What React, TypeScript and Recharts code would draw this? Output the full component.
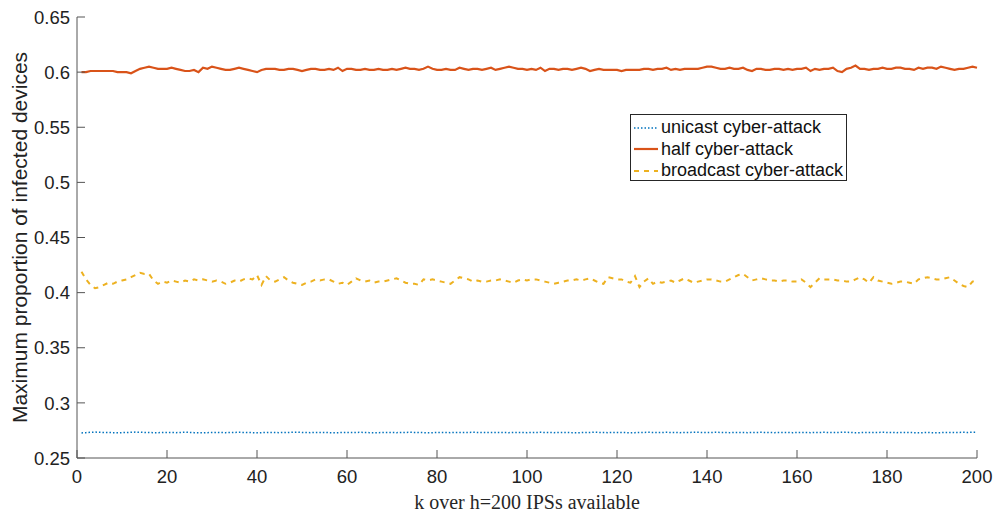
import { LineChart, Line, XAxis, YAxis, Legend } from "recharts";

const xTicks = [0, 20, 40, 60, 80, 100, 120, 140, 160, 180, 200];
const yTicks = [0.25, 0.3, 0.35, 0.4, 0.45, 0.5, 0.55, 0.6, 0.65];

const unicast = [
  0.2727, 0.273, 0.2733, 0.2735, 0.2733, 0.2732, 0.2731, 0.273, 0.2729, 0.273, 0.2731, 0.2733, 0.2735, 0.2733, 0.2732, 0.2731, 0.273, 0.273, 0.2731, 0.2732,
  0.2731, 0.273, 0.2732, 0.2734, 0.2732, 0.273, 0.2729, 0.2728, 0.273, 0.2731, 0.2732, 0.2731, 0.273, 0.2731, 0.2732, 0.2733, 0.2732, 0.2731, 0.273, 0.2728,
  0.273, 0.2731, 0.2732, 0.2731, 0.273, 0.2731, 0.2732, 0.2733, 0.2734, 0.2732, 0.2731, 0.273, 0.2731, 0.2732, 0.2731, 0.273, 0.2729, 0.273, 0.2731, 0.2732,
  0.2731, 0.2732, 0.2733, 0.2731, 0.273, 0.2729, 0.273, 0.2731, 0.2732, 0.2731, 0.273, 0.2731, 0.2732, 0.2733, 0.2732, 0.2731, 0.273, 0.2729, 0.273, 0.2731,
  0.2732, 0.2731, 0.273, 0.2731, 0.2732, 0.2731, 0.2732, 0.2733, 0.2732, 0.2731, 0.273, 0.2731, 0.2732, 0.2732, 0.2731, 0.273, 0.2731, 0.2732, 0.2731, 0.273,
  0.2731, 0.2732, 0.2733, 0.2732, 0.2731, 0.273, 0.2731, 0.2732, 0.2731, 0.273, 0.2729, 0.273, 0.2731, 0.2732, 0.2734, 0.2732, 0.2731, 0.273, 0.2731, 0.2732,
  0.2731, 0.273, 0.2729, 0.273, 0.2731, 0.2732, 0.2733, 0.2732, 0.2731, 0.2732, 0.2733, 0.2732, 0.2731, 0.273, 0.2731, 0.2732, 0.2733, 0.2733, 0.2732, 0.2731,
  0.2732, 0.2733, 0.2732, 0.2731, 0.273, 0.2731, 0.2732, 0.2731, 0.273, 0.2731, 0.2732, 0.2733, 0.2732, 0.2731, 0.273, 0.2731, 0.2732, 0.2731, 0.273, 0.2731,
  0.2732, 0.2731, 0.273, 0.2731, 0.2732, 0.2733, 0.2732, 0.2731, 0.2732, 0.2733, 0.2734, 0.2731, 0.2729, 0.273, 0.2731, 0.2732, 0.2731, 0.2732, 0.2733, 0.2732,
  0.2731, 0.273, 0.2731, 0.2732, 0.2731, 0.273, 0.2729, 0.273, 0.2731, 0.273, 0.2729, 0.273, 0.2731, 0.2732, 0.2731, 0.2732, 0.2733, 0.2732, 0.2733, 0.2733,
];

const half = [
  0.6, 0.6, 0.601, 0.601, 0.601, 0.601, 0.601, 0.601, 0.6, 0.6, 0.6, 0.599, 0.601, 0.603, 0.604, 0.605, 0.604, 0.603, 0.603, 0.603,
  0.604, 0.603, 0.602, 0.601, 0.601, 0.602, 0.6, 0.604, 0.603, 0.605, 0.604, 0.603, 0.602, 0.602, 0.603, 0.604, 0.603, 0.602, 0.601, 0.6,
  0.602, 0.603, 0.603, 0.603, 0.602, 0.602, 0.603, 0.603, 0.602, 0.601, 0.602, 0.603, 0.603, 0.602, 0.602, 0.603, 0.602, 0.604, 0.601, 0.603,
  0.603, 0.602, 0.602, 0.603, 0.602, 0.602, 0.603, 0.602, 0.602, 0.603, 0.602, 0.603, 0.604, 0.603, 0.603, 0.602, 0.603, 0.605, 0.603, 0.602,
  0.602, 0.603, 0.602, 0.602, 0.604, 0.603, 0.602, 0.603, 0.603, 0.602, 0.603, 0.604, 0.602, 0.603, 0.604, 0.605, 0.604, 0.603, 0.603, 0.602,
  0.603, 0.602, 0.604, 0.601, 0.603, 0.603, 0.602, 0.603, 0.603, 0.602, 0.603, 0.604, 0.603, 0.601, 0.602, 0.603, 0.602, 0.602, 0.602, 0.602,
  0.601, 0.602, 0.602, 0.602, 0.602, 0.603, 0.603, 0.602, 0.603, 0.603, 0.604, 0.602, 0.603, 0.602, 0.603, 0.603, 0.603, 0.603, 0.604, 0.605,
  0.605, 0.604, 0.603, 0.603, 0.604, 0.603, 0.603, 0.604, 0.602, 0.601, 0.603, 0.603, 0.602, 0.602, 0.603, 0.603, 0.602, 0.603, 0.602, 0.603,
  0.603, 0.604, 0.601, 0.603, 0.602, 0.603, 0.603, 0.604, 0.601, 0.6, 0.603, 0.604, 0.606, 0.603, 0.603, 0.602, 0.603, 0.603, 0.604, 0.603,
  0.603, 0.604, 0.604, 0.603, 0.603, 0.602, 0.604, 0.603, 0.604, 0.604, 0.603, 0.605, 0.604, 0.603, 0.602, 0.603, 0.603, 0.604, 0.605, 0.604,
];

const broadcast = [
  0.419, 0.412, 0.407, 0.404, 0.405, 0.407, 0.409, 0.408, 0.41, 0.411, 0.412, 0.414, 0.416, 0.418, 0.417, 0.417, 0.411, 0.408, 0.41, 0.409,
  0.411, 0.41, 0.409, 0.411, 0.41, 0.412, 0.411, 0.412, 0.411, 0.41, 0.411, 0.41, 0.408, 0.409, 0.411, 0.41, 0.412, 0.413, 0.412, 0.416,
  0.407, 0.415, 0.411, 0.41, 0.412, 0.414, 0.411, 0.409, 0.408, 0.407, 0.409, 0.41, 0.412, 0.411, 0.412, 0.412, 0.41, 0.408, 0.409, 0.407,
  0.41, 0.413, 0.411, 0.41, 0.411, 0.409, 0.41, 0.41, 0.411, 0.412, 0.413, 0.411, 0.409, 0.408, 0.408, 0.407, 0.412, 0.411, 0.412, 0.411,
  0.41, 0.409, 0.408, 0.411, 0.414, 0.413, 0.412, 0.41, 0.411, 0.41, 0.41, 0.411, 0.411, 0.412, 0.411, 0.41, 0.409, 0.411, 0.412, 0.411,
  0.412, 0.412, 0.411, 0.41, 0.409, 0.408, 0.409, 0.41, 0.411, 0.411, 0.412, 0.411, 0.412, 0.413, 0.411, 0.409, 0.408, 0.414, 0.413, 0.412,
  0.412, 0.41, 0.409, 0.415, 0.405, 0.41, 0.413, 0.408, 0.41, 0.409, 0.41, 0.411, 0.409, 0.411, 0.413, 0.411, 0.409, 0.41, 0.411, 0.412,
  0.412, 0.411, 0.41, 0.41, 0.412, 0.414, 0.416, 0.417, 0.414, 0.411, 0.412, 0.413, 0.412, 0.411, 0.411, 0.41, 0.411, 0.411, 0.41, 0.41,
  0.412, 0.409, 0.405, 0.409, 0.413, 0.412, 0.412, 0.412, 0.411, 0.411, 0.41, 0.41, 0.412, 0.414, 0.412, 0.409, 0.414, 0.411, 0.41, 0.409,
  0.408, 0.409, 0.41, 0.41, 0.409, 0.408, 0.412, 0.413, 0.414, 0.413, 0.412, 0.412, 0.413, 0.414, 0.411, 0.408, 0.406, 0.405, 0.41, 0.411,
];

const data = unicast.map((u, i) => ({
  k: i + 1,
  unicast: u,
  half: half[i],
  broadcast: broadcast[i],
}));

const series = [
  { key: "unicast", name: "unicast cyber-attack", color: "#0072BD", width: 1.5, dash: "1.5 2" },
  { key: "half", name: "half cyber-attack", color: "#D95319", width: 2.2, dash: undefined },
  { key: "broadcast", name: "broadcast cyber-attack", color: "#EDB120", width: 2, dash: "5 5" },
];

const AXIS = "#555";
const TICK_FONT = "'Liberation Sans', Arial, sans-serif";
const TICK_LEN = 8;

const fmtY = (v: number) => String(+v.toFixed(2));

function BottomTick({ x, y, payload }: any) {
  return (
    <g>
      <line x1={x} y1={y} x2={x} y2={y - TICK_LEN} stroke={AXIS} />
      <text x={x} y={y + 25} textAnchor="middle" fontSize={18.5} fontFamily={TICK_FONT} fill="#222">
        {payload.value}
      </text>
    </g>
  );
}

function TopTick({ x, y }: any) {
  return <line x1={x} y1={y} x2={x} y2={y + TICK_LEN} stroke={AXIS} />;
}

function LeftTick({ x, y, payload }: any) {
  return (
    <g>
      <line x1={x} y1={y} x2={x + TICK_LEN} y2={y} stroke={AXIS} />
      <text x={x - 7} y={y} dy="0.36em" textAnchor="end" fontSize={18.5} fontFamily={TICK_FONT} fill="#222">
        {fmtY(payload.value)}
      </text>
    </g>
  );
}

function RightTick({ x, y }: any) {
  return <line x1={x} y1={y} x2={x - TICK_LEN} y2={y} stroke={AXIS} />;
}

function LegendBox() {
  return (
    <div
      style={{
        border: "1px solid #262626",
        background: "#fff",
        boxSizing: "border-box",
        width: 217,
        height: 67,
        padding: "2px 3px",
        fontFamily: TICK_FONT,
        fontSize: 18,
        color: "#111",
      }}
    >
      {series.map((s) => (
        <div key={s.key} style={{ display: "flex", alignItems: "center", height: 21.5 }}>
          <svg width={24} height={10} style={{ marginRight: 3, flexShrink: 0 }}>
            <line x1={0} y1={5} x2={24} y2={5} stroke={s.color} strokeWidth={s.width} strokeDasharray={s.dash} />
          </svg>
          <span style={{ lineHeight: "21.5px", whiteSpace: "nowrap" }}>{s.name}</span>
        </div>
      ))}
    </div>
  );
}

export default function App() {
  return (
    <div style={{ position: "absolute", left: 0, top: 0, width: 996, height: 515, background: "#fff" }}>
      <LineChart width={996} height={515} data={data} margin={{ top: 17, right: 19, left: 0, bottom: 0 }}>
        <XAxis
          dataKey="k"
          type="number"
          domain={[0, 200]}
          ticks={xTicks}
          height={57}
          stroke={AXIS}
          tickLine={false}
          tickSize={0}
          tickMargin={0}
          tick={<BottomTick />}
          interval={0}
          label={{
            content: ({ viewBox }: any) => (
              <text
                x={viewBox.x + viewBox.width / 2}
                y={viewBox.y + 51}
                textAnchor="middle"
                fontSize={20}
                fontFamily="'Liberation Serif', 'Times New Roman', serif"
                fill="#262626"
              >
                k over h=200 IPSs available
              </text>
            ),
          }}
        />
        <XAxis
          xAxisId="top"
          orientation="top"
          dataKey="k"
          type="number"
          domain={[0, 200]}
          ticks={xTicks}
          height={0}
          stroke={AXIS}
          tickLine={false}
          tickSize={0}
          tickMargin={0}
          tick={<TopTick />}
          interval={0}
        />
        <YAxis
          type="number"
          domain={[0.25, 0.65]}
          ticks={yTicks}
          width={77}
          stroke={AXIS}
          tickLine={false}
          tickSize={0}
          tickMargin={0}
          tick={<LeftTick />}
          interval={0}
          allowDataOverflow
          label={{
            content: ({ viewBox }: any) => {
              const cy = viewBox.y + viewBox.height / 2;
              return (
                <text
                  x={27}
                  y={cy}
                  transform={`rotate(-90 27 ${cy})`}
                  textAnchor="middle"
                  fontSize={21}
                  fontFamily={TICK_FONT}
                  fill="#222"
                >
                  Maximum proportion of infected devices
                </text>
              );
            },
          }}
        />
        <YAxis
          yAxisId="right"
          orientation="right"
          type="number"
          domain={[0.25, 0.65]}
          ticks={yTicks}
          width={0}
          stroke={AXIS}
          tickLine={false}
          tickSize={0}
          tickMargin={0}
          tick={<RightTick />}
          interval={0}
          allowDataOverflow
        />
        <Legend
          layout="horizontal"
          verticalAlign="middle"
          align="center"
          content={<LegendBox />}
          wrapperStyle={{ left: 630, top: 114, width: 217, height: 67 }}
        />
        {series.map((s) => (
          <Line
            key={s.key}
            type="linear"
            dataKey={s.key}
            name={s.name}
            stroke={s.color}
            strokeWidth={s.width}
            strokeDasharray={s.dash}
            dot={false}
            activeDot={false}
            isAnimationActive={false}
          />
        ))}
      </LineChart>
    </div>
  );
}
